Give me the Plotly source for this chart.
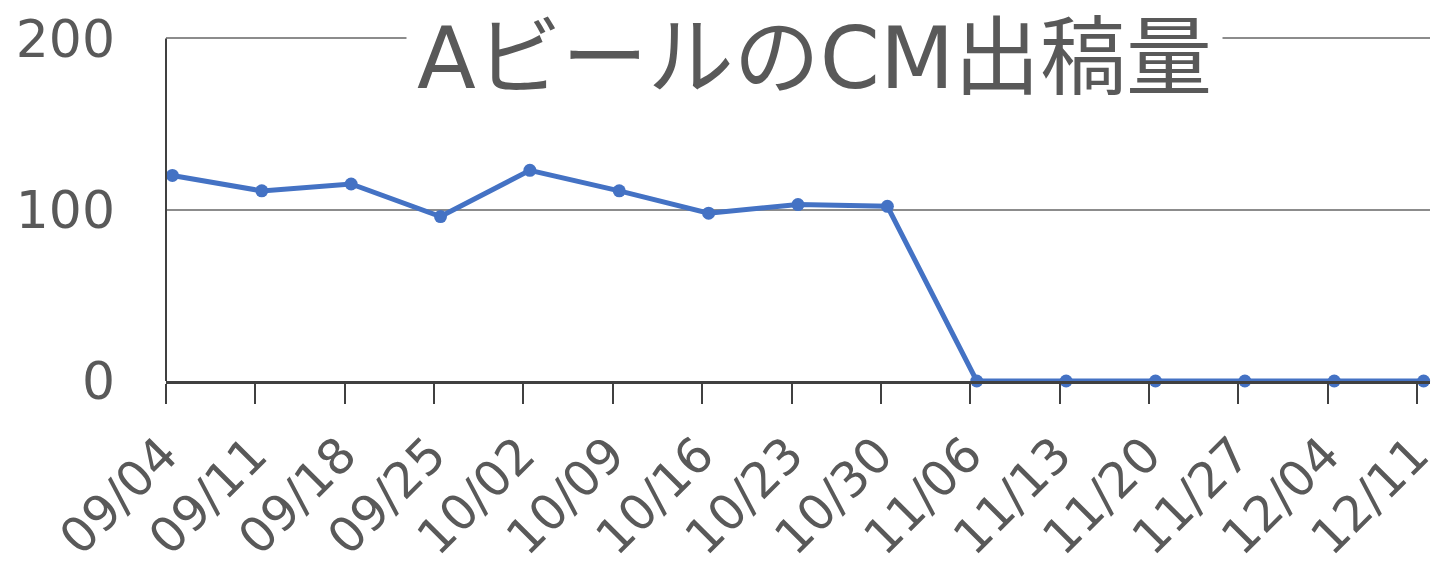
import plotly.graph_objects as go
import pandas as pd

dates = ["2023-09-04", "2023-09-11", "2023-09-18", "2023-09-25", "2023-10-02",
         "2023-10-09", "2023-10-16", "2023-10-23", "2023-10-30", "2023-11-06",
         "2023-11-13", "2023-11-20", "2023-11-27", "2023-12-04", "2023-12-11"]
tick_labels = ["09/04", "09/11", "09/18", "09/25", "10/02", "10/09", "10/16", "10/23",
               "10/30", "11/06", "11/13", "11/20", "11/27", "12/04", "12/11"]
values = [120, 111, 115, 96, 123, 111, 98, 103, 102, 0, 0, 0, 0, 0, 0]
y_ticks = [0, 100, 200]
title_text = "AビールのCM出稿量"

# Excel-style date axis: each point sits in the middle of its day slot
x_pts = pd.to_datetime(dates) + pd.Timedelta(hours=12)

FONT = "DejaVu Sans, Noto Sans CJK JP, sans-serif"
TXT = "#595959"

fig = go.Figure()
fig.add_trace(go.Scatter(
    x=x_pts, y=values, mode="lines+markers",
    line=dict(color="#4472C4", width=5),
    marker=dict(color="#4472C4", size=13),
    showlegend=False, cliponaxis=False,
))

fig.update_layout(
    width=1436, height=568,
    margin=dict(l=166, r=6, t=35, b=187),
    paper_bgcolor="white", plot_bgcolor="white",
    font=dict(family=FONT, color=TXT),
    xaxis=dict(
        type="date", automargin=False,
        range=[dates[0], "2023-12-12"],
        tickmode="array", tickvals=dates, ticktext=tick_labels,
        tickangle=-45, tickfont=dict(size=49, color=TXT, family=FONT),
        ticks="outside", ticklen=20, tickwidth=2, tickcolor="#404040",
        ticklabelstandoff=2, ticklabelshift=-3, ticklabeloverflow="allow",
        showline=True, linecolor="#404040", linewidth=3,
        showgrid=False, zeroline=False,
    ),
    yaxis=dict(
        automargin=False,
        range=[0, 202], tickmode="array", tickvals=y_ticks,
        tickfont=dict(size=52, color=TXT, family=FONT),
        showgrid=True, gridcolor="#8C8C8C", gridwidth=2,
        showline=False, zeroline=False, ticks="", ticklabelstandoff=50,
    ),
    shapes=[dict(
        type="line", xref="paper", yref="y", x0=0, x1=0, y0=0, y1=200,
        line=dict(color="#404040", width=2),
    )],
    annotations=[dict(
        text=title_text, xref="paper", yref="paper",
        x=0.5127, y=0.9325, xanchor="center", yanchor="middle",
        showarrow=False, bgcolor="white", borderpad=10,
        font=dict(size=86, color=TXT, family=FONT),
    )],
)

fig.write_html("out.html")
